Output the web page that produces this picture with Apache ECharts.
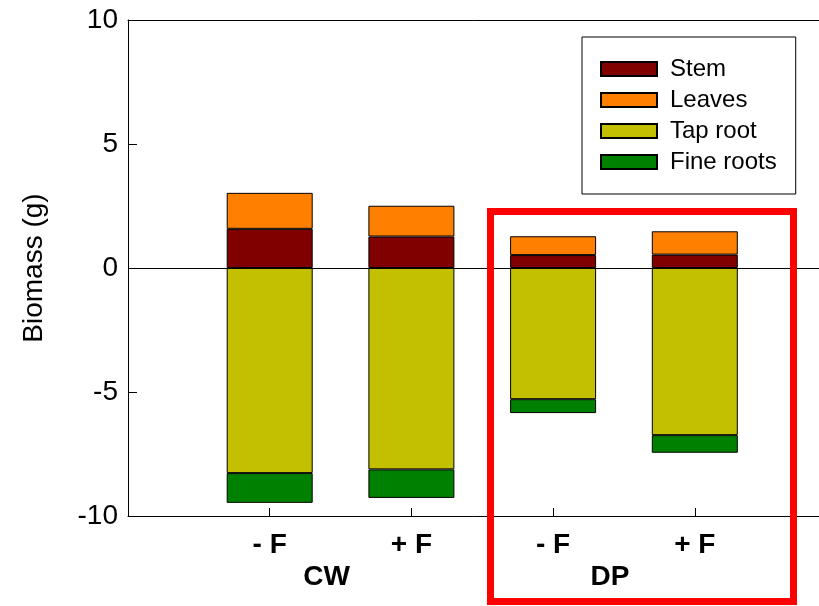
<!DOCTYPE html>
<html>
<head>
<meta charset="utf-8">
<title>Biomass allocation</title>
<script src="https://cdn.jsdelivr.net/npm/echarts@6/dist/echarts.min.js"></script>
<style>
  html, body { margin: 0; padding: 0; background: #ffffff; }
  #chart { width: 819px; height: 606px; }
</style>
</head>
<body>
<div id="chart"></div>
<script>
// Treatment labels under each bar, and the site groups below them
const treatments = ['- F', '+ F', '- F', '+ F'];
const sites = ['CW', 'DP'];
const yTicks = [-10, -5, 0, 5, 10];

// Above-ground parts (positive) and below-ground parts (negative), in g
const stem = [1.58, 1.27, 0.52, 0.54];
const leaves = [1.45, 1.24, 0.76, 0.94];
const tapRoot = [-8.27, -8.12, -5.29, -6.74];
const fineRoots = [-1.20, -1.15, -0.56, -0.71];

const seriesNames = ['Stem', 'Leaves', 'Tap root', 'Fine roots'];
const seriesColors = ['#800000', '#ff8000', '#c2c000', '#008000'];
const seriesValues = [stem, leaves, tapRoot, fineRoots];

// Category slots: an empty slot at the y axis, the four bars, and an empty slot past the right edge
const slots = [''].concat(treatments, ['']);
const isBarSlot = idx => idx >= 1 && idx <= treatments.length;

const FONT = '"Liberation Sans", Arial, sans-serif';
const chart = echarts.init(document.getElementById('chart'), null, { renderer: 'canvas' });

const series = seriesNames.map((name, k) => ({
  name: name,
  type: 'bar',
  stack: 'biomass',
  barWidth: 86,
  data: [null].concat(seriesValues[k], [null]),
  itemStyle: { color: seriesColors[k], borderColor: '#000', borderWidth: 1 },
  emphasis: { disabled: true },
  animation: false
}));

// Horizontal reference line at zero
series[0].markLine = {
  silent: true,
  symbol: 'none',
  label: { show: false },
  lineStyle: { color: '#000', width: 1, type: 'solid' },
  data: [{ yAxis: 0 }],
  animation: false
};

const axisCommon = {
  type: 'category',
  data: slots,
  boundaryGap: false
};

chart.setOption({
  animation: false,
  backgroundColor: '#ffffff',
  textStyle: { fontFamily: FONT },
  grid: {
    left: 128, width: 708.5, top: 20, height: 496,
    containLabel: false,
    outerBoundsMode: 'none'
  },
  legend: {
    orient: 'vertical',
    left: 582,
    top: 37,
    padding: [20, 19, 20, 18],
    borderColor: '#000',
    borderWidth: 1,
    itemWidth: 56,
    itemHeight: 14,
    itemGap: 7,
    icon: 'rect',
    selectedMode: false,
    textStyle: { fontSize: 24, color: '#000', fontFamily: FONT, padding: [0, 0, 0, 8] },
    data: seriesNames
  },
  xAxis: [Object.assign({}, axisCommon, {
    position: 'bottom',
    axisLine: { show: true, onZero: false, lineStyle: { color: '#000', width: 1 } },
    axisTick: { show: true, inside: true, length: 8, interval: isBarSlot, lineStyle: { color: '#000' } },
    axisLabel: {
      interval: isBarSlot,
      margin: 15,
      fontSize: 28,
      fontWeight: 'bold',
      color: '#000',
      fontFamily: FONT
    },
    splitLine: { show: false }
  }), Object.assign({}, axisCommon, {
    position: 'top',
    axisLine: { show: true, onZero: false, lineStyle: { color: '#000', width: 1 } },
    axisTick: { show: false },
    axisLabel: { show: false },
    splitLine: { show: false }
  })],
  yAxis: {
    type: 'value',
    min: yTicks[0],
    max: yTicks[yTicks.length - 1],
    interval: 5,
    name: 'Biomass (g)',
    nameLocation: 'middle',
    nameGap: 80,
    nameTextStyle: { fontSize: 28, color: '#000', fontFamily: FONT },
    axisLine: { show: true, lineStyle: { color: '#000', width: 1 } },
    axisTick: { show: true, inside: true, length: 9, lineStyle: { color: '#000' } },
    axisLabel: { fontSize: 28, color: '#000', margin: 10, fontFamily: FONT },
    splitLine: { show: false }
  },
  series: series
});

// Site names centred under each pair of bars, and the frame around the DP pair
const groupX = [
  (chart.convertToPixel({ xAxisIndex: 0 }, 1) + chart.convertToPixel({ xAxisIndex: 0 }, 2)) / 2 - 14,
  (chart.convertToPixel({ xAxisIndex: 0 }, 3) + chart.convertToPixel({ xAxisIndex: 0 }, 4)) / 2 - 14
];
chart.setOption({
  graphic: [
    {
      type: 'text',
      x: groupX[0], y: 577,
      style: { text: sites[0], font: 'bold 28px ' + FONT, fill: '#000', textAlign: 'center', textVerticalAlign: 'middle' }
    },
    {
      type: 'text',
      x: groupX[1], y: 577,
      style: { text: sites[1], font: 'bold 28px ' + FONT, fill: '#000', textAlign: 'center', textVerticalAlign: 'middle' }
    },
    {
      type: 'rect',
      shape: { x: 490.5, y: 211.5, width: 303, height: 390 },
      style: { fill: 'none', stroke: '#ff0000', lineWidth: 7 },
      z: 100
    }
  ]
});
</script>
</body>
</html>
